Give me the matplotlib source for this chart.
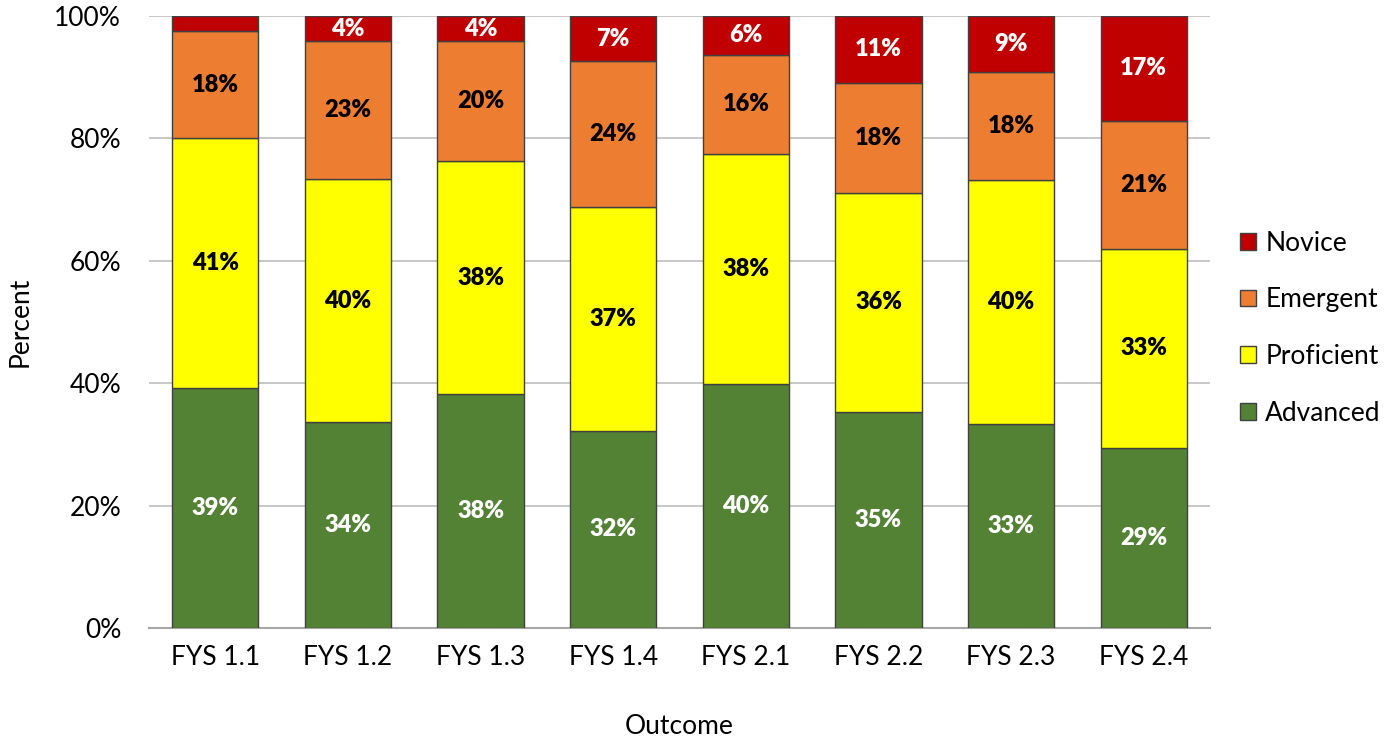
import matplotlib
matplotlib.use("Agg")
import matplotlib.pyplot as plt
from matplotlib.ticker import PercentFormatter
import numpy as np

plt.rcParams["font.family"] = ["Lato", "DejaVu Sans"]

outcomes = ["FYS 1.1", "FYS 1.2", "FYS 1.3", "FYS 1.4", "FYS 2.1", "FYS 2.2", "FYS 2.3", "FYS 2.4"]
advanced = [39.2, 33.7, 38.2, 32.2, 39.9, 35.3, 33.4, 29.4]
proficient = [40.8, 39.6, 38.1, 36.6, 37.6, 35.8, 39.8, 32.6]
emergent = [17.6, 22.6, 19.6, 23.8, 16.2, 18.0, 17.6, 20.9]
novice = [2.4, 4.1, 4.1, 7.4, 6.3, 10.9, 9.2, 17.1]

levels = ["Advanced", "Proficient", "Emergent", "Novice"]
series = [advanced, proficient, emergent, novice]
colors = ["#548235", "#FFFF00", "#ED7D31", "#C00000"]
text_colors = ["white", "black", "black", "white"]

fig = plt.figure(figsize=(13.98, 7.40), dpi=100)
ax = fig.add_axes([149 / 1398, 1 - 628 / 740, (1210 - 149) / 1398, (628 - 16) / 740])

x = np.arange(len(outcomes))
bottom = np.zeros(len(outcomes))
handles = []
for name, values, color, tcolor in zip(levels, series, colors, text_colors):
    values = np.array(values)
    bars = ax.bar(x, values, bottom=bottom, width=0.65, color=color,
                  edgecolor="#404040", linewidth=1.0, label=name, zorder=3)
    handles.append(bars)
    for xi, b, v in zip(x, bottom, values):
        if v >= 3:
            ax.text(xi, b + v / 2, f"{v:.0f}%", ha="center", va="center",
                    fontsize=17, fontweight="heavy", color=tcolor, zorder=4)
    bottom += values

ax.set_xlim(-0.5, len(outcomes) - 0.5)
ax.set_ylim(0, 100)
ax.set_yticks(np.arange(0, 101, 20))
ax.yaxis.set_major_formatter(PercentFormatter(decimals=0))
ax.set_xticks(x)
ax.set_xticklabels(outcomes)
ax.tick_params(axis="both", length=0, labelsize=19, colors="black")
ax.tick_params(axis="x", pad=12)
ax.tick_params(axis="y", pad=20)
ax.grid(axis="y", color="#BFBFBF", linewidth=1.2, zorder=0)
ax.set_axisbelow(True)
for side in ["left", "right", "top"]:
    ax.spines[side].set_visible(False)
ax.spines["bottom"].set_color("#A6A6A6")
ax.spines["bottom"].set_linewidth(1.5)

ax.set_ylabel("Percent", fontsize=19, labelpad=16)
ax.set_xlabel("Outcome", fontsize=19, labelpad=32)

ax.legend(handles=handles[::-1], labels=levels[::-1], loc="center left",
          bbox_to_anchor=(1.006, 0.49), frameon=False, fontsize=19,
          handlelength=0.6, handleheight=0.6, handletextpad=0.35,
          labelspacing=1.2)

fig.savefig("out.png", dpi=100)
